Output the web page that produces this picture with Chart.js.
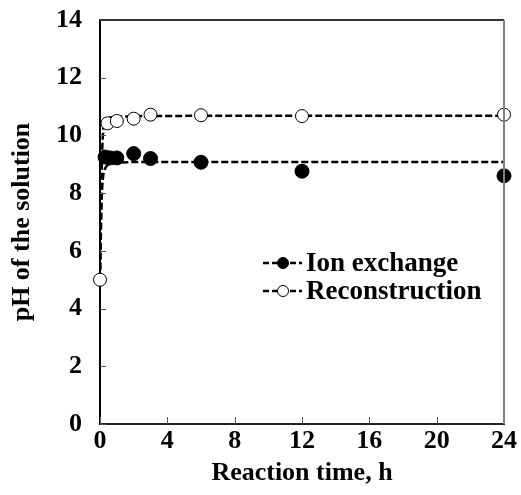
<!DOCTYPE html>
<html>
<head>
<meta charset="utf-8">
<script src="https://cdn.jsdelivr.net/npm/chart.js@4.4.1/dist/chart.umd.min.js"></script>
<style>
  html, body { margin: 0; padding: 0; background: #fff; }
  canvas { display: block; }
</style>
</head>
<body>
<canvas id="phChart" width="521" height="495"></canvas>
<script>
// measured pH vs. reaction time
const ionTime = [0.3, 0.6, 1, 2, 3, 6, 12, 24]
const ionPH = [9.25, 9.22, 9.22, 9.37, 9.2, 9.07, 8.76, 8.6]
const recTime = [0, 0.45, 1, 2, 3, 6, 12, 24]
const recPH = [5.0, 10.42, 10.5, 10.58, 10.72, 10.7, 10.67, 10.72]

// fitted curves (dashed)
const fitTime = [0, 0.05, 0.1, 0.15, 0.2, 0.3, 0.4, 0.6, 1, 2, 6, 12, 24]
const ionFit = [5.0, 6.5, 7.8, 8.4, 8.65, 8.85, 8.95, 9.02, 9.06, 9.08, 9.08, 9.08, 9.08]
const recFit = [5.0, 7.2, 8.8, 9.8, 10.25, 10.45, 10.55, 10.62, 10.65, 10.67, 10.68, 10.68, 10.68]

const xTicks = [0, 4, 8, 12, 16, 20, 24]
const yTicks = [0, 2, 4, 6, 8, 10, 12, 14]

const legendItems = ["Ion exchange", "Reconstruction"]

const serif = "'Liberation Serif', 'Times New Roman', serif"

const toPoints = (xs, ys) => xs.map((x, i) => ({ x: x, y: ys[i] }))

// inward tick marks, top/right frame and the in-plot legend
const framePlugin = {
  id: "frame",
  afterDatasetsDraw(chart) {
    const { ctx, chartArea: a, scales } = chart
    ctx.save()
    ctx.strokeStyle = "#555"
    ctx.lineWidth = 1
    yTicks.forEach(v => {
      const y = Math.round(scales.y.getPixelForValue(v)) + 0.5
      ctx.beginPath(); ctx.moveTo(a.left, y); ctx.lineTo(a.left + 6, y); ctx.stroke()
    })
    xTicks.forEach(v => {
      const x = Math.round(scales.x.getPixelForValue(v)) + 0.5
      ctx.beginPath(); ctx.moveTo(x, a.bottom); ctx.lineTo(x, a.bottom - 7); ctx.stroke()
    })
    ctx.lineWidth = 2
    ctx.strokeStyle = "#333"
    ctx.beginPath(); ctx.moveTo(a.left, a.top); ctx.lineTo(a.right, a.top); ctx.stroke()
    ctx.strokeStyle = "#808080"
    ctx.beginPath(); ctx.moveTo(a.right, a.top); ctx.lineTo(a.right, a.bottom); ctx.stroke()
    ctx.restore()
  },
  afterDraw(chart) {
    const { ctx } = chart
    const rows = [{ y: 263, fill: "#000" }, { y: 291, fill: "#fff" }]
    ctx.save()
    rows.forEach((r, i) => {
      ctx.setLineDash([6, 3])
      ctx.lineWidth = 2.5
      ctx.strokeStyle = "#000"
      ctx.beginPath(); ctx.moveTo(263, r.y); ctx.lineTo(302, r.y); ctx.stroke()
      ctx.setLineDash([])
      ctx.beginPath(); ctx.arc(283, r.y, 5.5, 0, Math.PI * 2)
      ctx.fillStyle = r.fill; ctx.fill()
      ctx.lineWidth = 1; ctx.stroke()
      ctx.fillStyle = "#000"
      ctx.font = "bold 27px " + serif
      ctx.textBaseline = "middle"
      ctx.fillText(legendItems[i], 306, r.y + 1)
    })
    ctx.restore()
  }
}

new Chart(document.getElementById("phChart"), {
  type: "scatter",
  data: {
    datasets: [
      {
        label: "Ion exchange fit",
        data: toPoints(fitTime, ionFit),
        showLine: true,
        borderColor: "#000",
        borderWidth: 2.5,
        borderDash: [7, 3],
        pointRadius: 0,
        tension: 0,
        order: 3
      },
      {
        label: "Reconstruction fit",
        data: toPoints(fitTime, recFit),
        showLine: true,
        borderColor: "#000",
        borderWidth: 2.5,
        borderDash: [7, 3],
        pointRadius: 0,
        tension: 0,
        order: 3
      },
      {
        label: legendItems[0],
        data: toPoints(ionTime, ionPH),
        pointRadius: 7,
        pointBackgroundColor: "#000",
        pointBorderColor: "#000",
        clip: false,
        order: 2
      },
      {
        label: legendItems[1],
        data: toPoints(recTime, recPH),
        pointRadius: 6.5,
        pointBorderWidth: 1,
        pointBackgroundColor: "#fff",
        pointBorderColor: "#000",
        clip: false,
        order: 1
      }
    ]
  },
  options: {
    responsive: false,
    animation: false,
    devicePixelRatio: 1,
    layout: { padding: { top: 20, right: 17, left: 0, bottom: 0 } },
    plugins: {
      legend: { display: false },
      tooltip: { enabled: false }
    },
    scales: {
      x: {
        type: "linear",
        min: 0,
        max: 24,
        afterBuildTicks: s => { s.ticks = xTicks.map(v => ({ value: v })) },
        afterFit: s => { s.height = 71; s.paddingLeft = 0; s.paddingRight = 0 },
        grid: { display: false, drawTicks: false },
        border: { color: "#222", width: 2 },
        ticks: {
          color: "#000",
          padding: 2,
          font: { family: serif, size: 26, weight: "bold" }
        },
        title: {
          display: true,
          text: "Reaction time, h",
          color: "#000",
          padding: { top: 2, bottom: 6 },
          font: { family: serif, size: 26, weight: "bold" }
        }
      },
      y: {
        min: 0,
        max: 14,
        afterBuildTicks: s => { s.ticks = yTicks.map(v => ({ value: v })) },
        afterFit: s => { s.width = 100; s.paddingTop = 0; s.paddingBottom = 0 },
        grid: { display: false, drawTicks: false },
        border: { color: "#000", width: 2 },
        ticks: {
          color: "#000",
          padding: 18,
          font: { family: serif, size: 26, weight: "bold" }
        },
        title: {
          display: true,
          text: "pH of the solution",
          color: "#000",
          padding: { top: 7, bottom: 0 },
          font: { family: serif, size: 26, weight: "bold" }
        }
      }
    }
  },
  plugins: [framePlugin]
})
</script>
</body>
</html>
